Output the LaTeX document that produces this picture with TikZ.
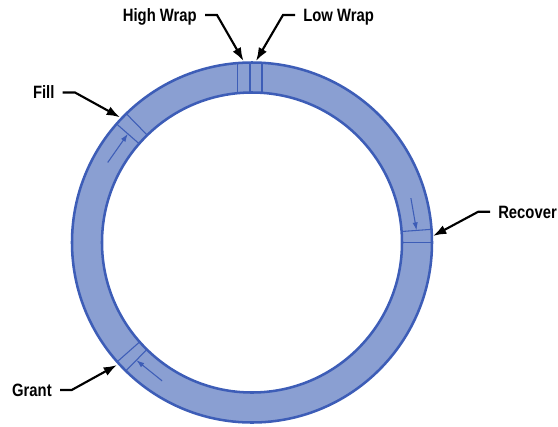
\documentclass[tikz,border=0pt]{standalone}
\usepackage{fontspec}
\setmainfont{Liberation Sans}[FakeStretch=0.83]
\usetikzlibrary{arrows.meta,calc}
\definecolor{ringfill}{HTML}{8A9FD2}
\definecolor{ringline}{HTML}{3D5DB7}
\begin{document}
\begin{tikzpicture}[x=0.75pt,y=-0.75pt,
  lbl/.style={font=\bfseries\fontsize{13.4pt}{14pt}\selectfont, inner xsep=6pt, inner ysep=0pt, text height=9.6pt, text depth=0pt},
  callout/.style={line width=1.6pt, -{Latex[length=10pt,width=7pt]}, line join=miter},
  cellline/.style={ringline, line width=0.8pt},
  ringedge/.style={ringline, line width=1.9pt},
  flow/.style={ringline, line width=0.8pt, -{Latex[length=6pt,width=4pt]}}]
\useasboundingbox (0,0) rectangle (558,426);
\coordinate (c) at (252,242.5);
% ring body
\fill[ringfill,even odd rule] (c) circle[radius=135pt] (c) circle[radius=112.5pt];
% cell boundaries (radial)
\foreach \a in {138.8,134.3,4.2,0,221.5,225.5}
  \draw[cellline] ($(c)+(\a:112.5pt)$) -- ($(c)+(\a:135pt)$);
% cell boundaries at the top (vertical)
\foreach \x/\yi/\yo in {237.5/93.2/63.1, 250/92.5/62.5, 262/92.8/62.8}
  \draw[cellline] (\x,\yi) -- (\x,\yo);
% ring edges
\draw[ringedge] (c) circle[radius=135pt];
\draw[ringedge] (c) circle[radius=112.5pt];
% flow arrows inside the ring
\coordinate (fa) at ($(c)+(151:123.75pt)$);
\coordinate (fb) at ($(c)+(138.8:123.75pt)$);
\coordinate (ra) at ($(c)+(15.6:123.75pt)$);
\coordinate (rb) at ($(c)+(4.2:123.75pt)$);
\coordinate (ga) at ($(c)+(237:123.75pt)$);
\coordinate (gb) at ($(c)+(225.5:123.75pt)$);
\draw[flow] (fa) -- (fb);
\draw[flow] (ra) -- (rb);
\draw[flow] (ga) -- (gb);
% labels and callouts
\node[lbl,anchor=east] (hw) at (205,15) {High Wrap};
\coordinate (hwk) at (217,15);
\coordinate (hwt) at (243.5,61);
\draw[callout] (hw.east) -- (hwk) -- (hwt);
\node[lbl,anchor=west] (lw) at (295,15) {Low Wrap};
\coordinate (lwk) at (283,15);
\coordinate (lwt) at (256,61);
\draw[callout] (lw.west) -- (lwk) -- (lwt);
\node[lbl,anchor=east] (fl) at (62.7,92.5) {Fill};
\coordinate (flk) at (75,92.5);
\coordinate (flt) at (120,117.3);
\draw[callout] (fl.east) -- (flk) -- (flt);
\node[lbl,anchor=west] (rc) at (490,211.7) {Recover};
\coordinate (rck) at (478.3,211.7);
\coordinate (rct) at (433,236);
\draw[callout] (rc.west) -- (rck) -- (rct);
\node[lbl,anchor=east] (gr) at (60,390) {Grant};
\coordinate (grk) at (71.7,390);
\coordinate (grt) at (117,365);
\draw[callout] (gr.east) -- (grk) -- (grt);
\end{tikzpicture}
\end{document}
